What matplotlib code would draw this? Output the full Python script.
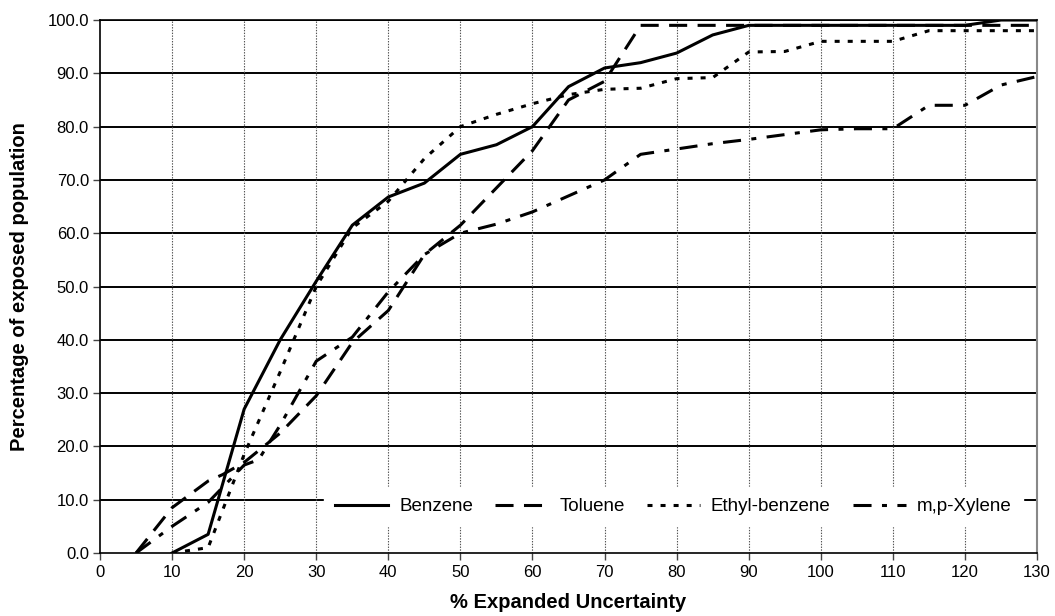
import matplotlib
matplotlib.use("Agg")
import matplotlib.pyplot as plt

plt.rcParams['font.family'] = ['Liberation Sans', 'DejaVu Sans']
plt.rcParams['lines.scale_dashes'] = False

#Data
benzeneX = [10, 15, 20, 25, 30, 35, 40, 45, 50, 55, 60, 65, 70, 75, 80, 85, 90, 95, 100, 105, 110, 115, 120, 125, 130]
benzeneY = [0, 3.5, 27, 40, 51, 61.5, 66.8, 69.4, 74.8, 76.6, 80, 87.5, 91, 92, 93.8, 97.2, 99, 99, 99, 99, 99, 99, 99, 100, 100]

tolueneX = [5, 10, 15, 17, 20, 25, 30, 35, 40, 45, 50, 55, 60, 65, 70, 75, 80, 90, 100, 110, 120, 130]
tolueneY = [0, 8.5, 13.5, 14.7, 17, 22.5, 29.5, 39.5, 45.5, 56, 61.5, 68.5, 75.5, 85, 88.5, 99, 99, 99, 99, 99, 99, 99]

ethylX = [10, 15, 20, 25, 30, 35, 40, 45, 50, 55, 60, 65, 70, 75, 80, 85, 90, 95, 100, 105, 110, 115, 120, 125, 130]
ethylY = [0, 1, 18.5, 34, 50, 61, 66, 74, 80, 82.3, 84.3, 86, 87, 87.2, 89, 89.2, 94, 94.1, 96, 96, 96, 98, 98, 98, 98]

xyleneX = [5, 10, 15, 20, 22, 25, 30, 35, 40, 45, 50, 55, 60, 65, 70, 75, 80, 85, 90, 95, 100, 105, 110, 115, 120, 125, 130]
xyleneY = [0, 5, 9.5, 16.5, 17.5, 24, 36, 40.5, 49, 56, 60, 61.7, 64, 67, 70, 74.8, 75.8, 76.8, 77.6, 78.5, 79.4, 79.6, 79.6, 84, 84, 87.8, 89.4]

xTicks = list(range(0, 131, 10))
yTicks = list(range(0, 101, 10))

fig = plt.figure(figsize=(10.55, 6.16), dpi=100)
ax = fig.add_axes([0.0948, 0.1023, 0.983 - 0.0948, 0.9675 - 0.1023])

lw = 2.2
ax.plot(benzeneX, benzeneY, color='black', linewidth=lw, linestyle='-', label='Benzene', zorder=3)
ax.plot(tolueneX, tolueneY, color='black', linewidth=lw, dashes=(13, 7.5), label='Toluene', zorder=3)
ax.plot(ethylX, ethylY, color='black', linewidth=lw, dashes=(3.6, 5.8), label='Ethyl-benzene', zorder=3)
ax.plot(xyleneX, xyleneY, color='black', linewidth=lw, dashes=(13, 7.5, 3.6, 7.5), label='m,p-Xylene', zorder=3)

#Grid
for y in yTicks[1:]:
    ax.axhline(y, color='black', linewidth=1.4, zorder=1)
for x in xTicks[1:]:
    ax.axvline(x, color='#555555', linewidth=0.8, linestyle=(0, (1, 1)), zorder=1)

ax.set_xlim(0, 130)
ax.set_ylim(0, 100)
ax.set_xticks(xTicks)
ax.set_yticks(yTicks)
ax.set_yticklabels(['%.1f' % v for v in yTicks])
ax.tick_params(axis='both', labelsize=12, direction='out', length=5, width=1, color='#444444')
ax.tick_params(axis='y', pad=3)
ax.tick_params(axis='x', pad=4)

for side in ['left', 'bottom', 'top']:
    ax.spines[side].set_color('black')
    ax.spines[side].set_linewidth(1.2)
ax.spines['right'].set_color('#888888')
ax.spines['right'].set_linewidth(1.5)

ax.set_xlabel('% Expanded Uncertainty', fontsize=14.5, fontweight='bold', labelpad=9)
ax.set_ylabel('Percentage of exposed population', fontsize=14.5, fontweight='bold', labelpad=13)

leg = ax.legend(loc='center', bbox_to_anchor=(0.612, 0.087), ncol=4, fontsize=13.5,
                frameon=True, fancybox=False, framealpha=1, edgecolor='white', facecolor='white',
                handlelength=2.8, columnspacing=1.2, handletextpad=0.6, borderpad=0.6)
leg.set_zorder(5)

fig.savefig('out.png', dpi=100)
